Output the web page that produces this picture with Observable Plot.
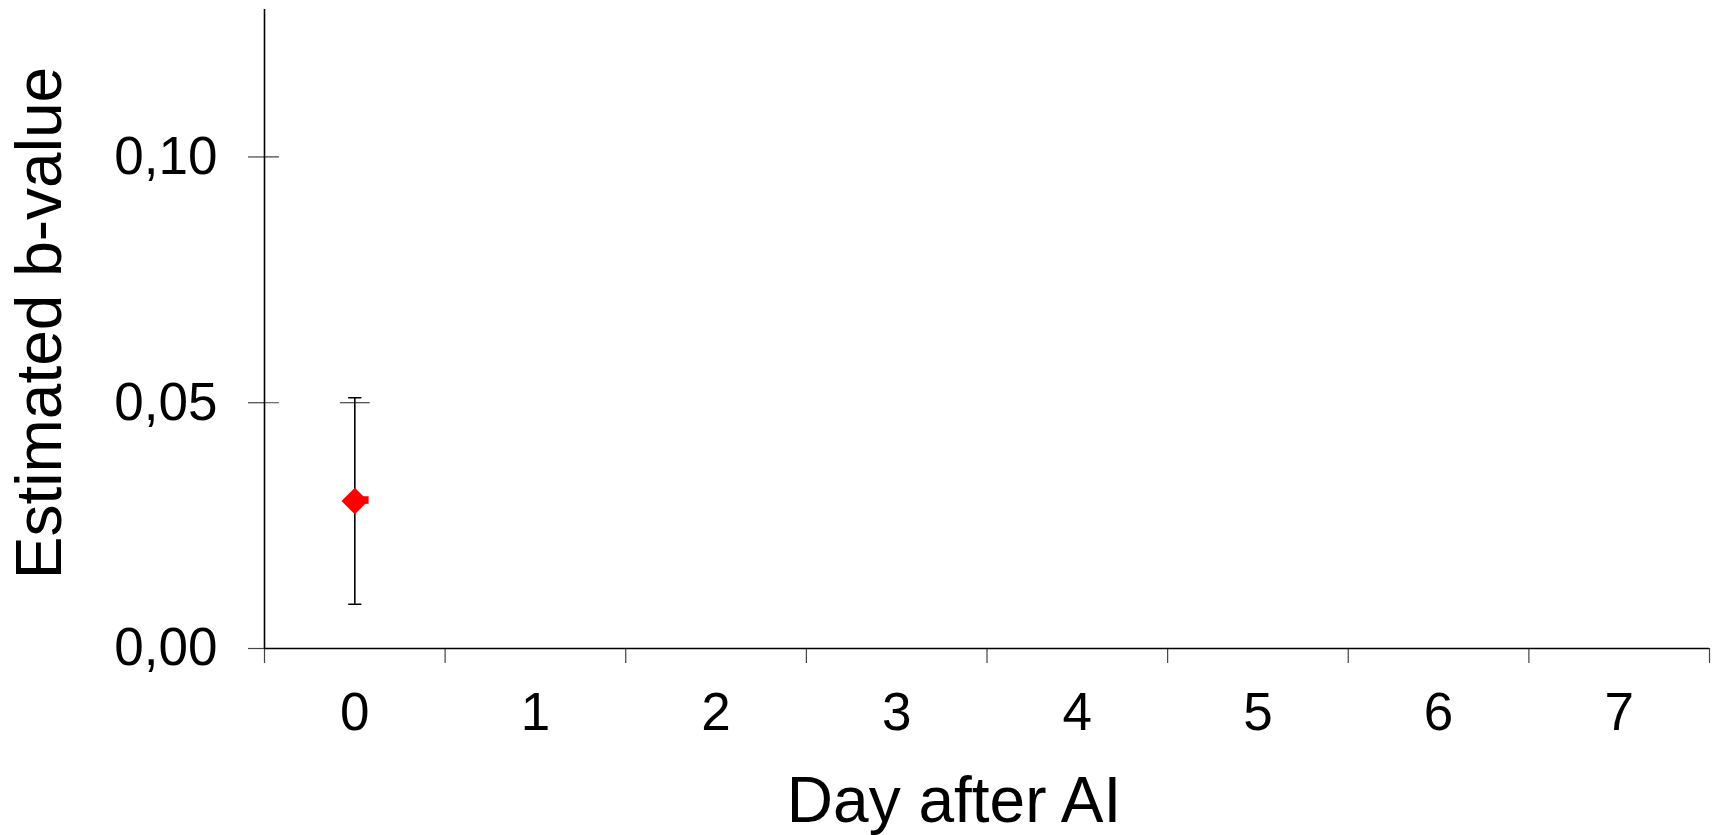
<!DOCTYPE html>
<html>
<head>
<meta charset="utf-8">
<script src="https://cdn.jsdelivr.net/npm/d3@7"></script>
<script src="https://cdn.jsdelivr.net/npm/@observablehq/plot@0.6"></script>
<style>
  html, body { margin: 0; padding: 0; background: #ffffff; }
  #chart { width: 1717px; height: 835px; overflow: hidden; }
</style>
</head>
<body>
<div id="chart"></div>
<script>
// ---- data ----
const days = [0, 1, 2, 3, 4, 5, 6, 7];
const dayLabels = ["0", "1", "2", "3", "4", "5", "6", "7"];
const pointDays = [0];
const bValues = [0.030];
const bLower = [0.009];
const bUpper = [0.051];
const bUpperAlt = [0.050];
const yTicks = [0, 0.05, 0.10];
const yTickLabels = ["0,00", "0,05", "0,10"];
const xTitle = "Day after AI";
const yTitle = "Estimated b-value";

const points = pointDays.map((d, i) => ({day: d, value: bValues[i], lo: bLower[i], hi: bUpper[i], hi2: bUpperAlt[i]}));
const bandEdges = [days[0] - 0.5, ...days.map(d => d + 0.5)];

const lineShape = { draw(context, l) { context.moveTo(0, 0); context.lineTo(0, -l); } };

const chart = Plot.plot({
  width: 1717,
  height: 835,
  marginLeft: 264,
  marginRight: 8,
  marginTop: 9,
  marginBottom: 187,
  style: { fontFamily: "'Liberation Sans', Arial, sans-serif", background: "#ffffff", color: "#000000" },
  x: { domain: [bandEdges[0], bandEdges[bandEdges.length - 1]] },
  y: { domain: [0, 0.13] },
  marks: [
    // x tick marks at category boundaries
    Plot.axisX({ ticks: bandEdges, tickSize: 15, tickFormat: () => "", stroke: "#444", strokeWidth: 1.2, label: null }),
    // x tick labels at category centres
    Plot.axisX({ ticks: days, tickSize: 0, tickPadding: 44, tickFormat: d => dayLabels[days.indexOf(d)], fontSize: 53, fill: "#000", label: null }),
    // y axis outer ticks + labels
    Plot.axisY({ ticks: yTicks, tickSize: 16, tickPadding: 31, tickFormat: d => yTickLabels[yTicks.indexOf(d)], fontSize: 53, fill: "#000", stroke: "#444", strokeWidth: 1.2, label: null }),
    // y axis inner tick parts
    Plot.vector(yTicks, { y: d => d, frameAnchor: "left", length: 14, rotate: 90, anchor: "start", shape: lineShape, stroke: "#444", strokeWidth: 1.2 }),
    // axis lines
    Plot.ruleX([bandEdges[0]], { stroke: "#000", strokeWidth: 1.6 }),
    Plot.ruleY([0], { stroke: "#000", strokeWidth: 1.6 }),
    // error bar
    Plot.ruleX(points, { x: "day", y1: "lo", y2: "hi", stroke: "#000", strokeWidth: 1.6 }),
    Plot.vector(points, { x: "day", y: "hi", length: 12, rotate: 90, anchor: "middle", shape: lineShape, stroke: "#000", strokeWidth: 1.6 }),
    Plot.vector(points, { x: "day", y: "lo", length: 12, rotate: 90, anchor: "middle", shape: lineShape, stroke: "#000", strokeWidth: 1.6 }),
    Plot.vector(points, { x: "day", y: "hi2", length: 29, rotate: 90, anchor: "middle", shape: lineShape, stroke: "#222", strokeWidth: 1.2 }),
    // marker
    Plot.dot(points, { x: "day", y: "value", symbol: "square", r: 4.3, fill: "#ff0000", stroke: "none", dx: 10, dy: -1 }),
    Plot.dot(points, { x: "day", y: "value", symbol: "diamond2", r: 12, fill: "#ff0000", stroke: "none" }),
    // axis titles
    Plot.text([yTitle], { text: d => d, frameAnchor: "left", rotate: -90, dx: -204, dy: -6, fontSize: 64, lineAnchor: "bottom", textAnchor: "middle", fill: "#000" }),
    Plot.text([xTitle], { text: d => d, frameAnchor: "bottom", dx: -33, dy: 173, fontSize: 64, lineAnchor: "bottom", textAnchor: "middle", fill: "#000" })
  ]
});
document.getElementById("chart").appendChild(chart);
</script>
</body>
</html>
